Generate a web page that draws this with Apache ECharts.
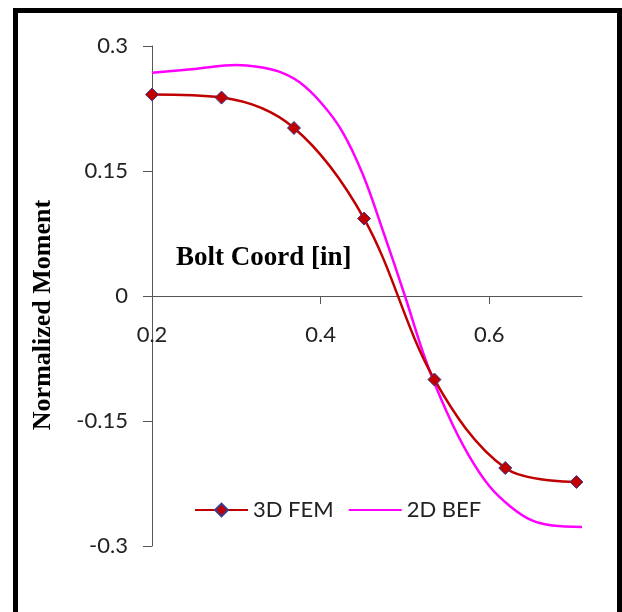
<!DOCTYPE html>
<html>
<head>
<meta charset="utf-8">
<script src="https://cdn.jsdelivr.net/npm/echarts@6/dist/echarts.min.js"></script>
<style>
html, body { margin: 0; padding: 0; background: #fff; }
#main { width: 622px; height: 612px; }
</style>
</head>
<body>
<div id="main"></div>
<script>
// 3D FEM results (bolt coord, normalized moment)
var femX = [0.2, 0.2825, 0.3684, 0.4515, 0.535, 0.619, 0.7034];
var femY = [0.2417, 0.2381, 0.2016, 0.0929, -0.1003, -0.2064, -0.2232];

// 2D BEF curve
var befX = [0.2, 0.25, 0.3, 0.325, 0.35, 0.375, 0.4, 0.425, 0.45, 0.475, 0.5,
            0.525, 0.55, 0.575, 0.6, 0.625, 0.65, 0.675, 0.71];
var befY = [0.268, 0.2725, 0.2772, 0.2752, 0.2695, 0.2565, 0.2325, 0.1985, 0.146, 0.075, 0.0,
            -0.078, -0.14, -0.19, -0.228, -0.2525, -0.269, -0.2755, -0.2772];

var xTicks = [0.2, 0.4, 0.6];
var yTicks = [-0.3, -0.15, 0, 0.15, 0.3];

function pairs(xs, ys) {
    return xs.map(function (x, i) { return [x, ys[i]]; });
}

var myChart = echarts.init(document.getElementById('main'));

option = {
    animation: false,
    backgroundColor: '#fff',
    grid: { left: 152, right: 40, top: 46, bottom: 66 },
    legend: {
        left: 194,
        top: 499,
        padding: 0,
        itemWidth: 53,
        itemHeight: 16,
        itemGap: 14,
        textStyle: { fontFamily: 'Lato', fontSize: 22, color: '#222' },
        data: ['3D FEM', { name: '2D BEF', itemStyle: { opacity: 0 } }]
    },
    xAxis: {
        type: 'value',
        min: 0.2,
        max: 0.71,
        interval: 0.2,
        offset: -250,   // sits on y = 0
        splitLine: { show: false },
        axisLine: { onZero: false, lineStyle: { color: '#555', width: 1 } },
        axisTick: { length: 8, lineStyle: { color: '#555' }, customValues: xTicks },
        axisLabel: { margin: 28, customValues: xTicks, fontFamily: 'Lato', fontSize: 22, color: '#222' }
    },
    yAxis: {
        type: 'value',
        min: -0.3,
        max: 0.3,
        interval: 0.15,
        splitLine: { show: false },
        axisLine: { show: true, onZero: false, lineStyle: { color: '#555', width: 1 } },
        axisTick: { show: true, length: 9, lineStyle: { color: '#555' }, customValues: yTicks },
        axisLabel: { margin: 24, customValues: yTicks, fontFamily: 'Lato', fontSize: 22, color: '#222' }
    },
    graphic: [
        {
            type: 'rect',
            shape: { x: 15.5, y: 10.5, width: 604, height: 700 },
            style: { fill: 'none', stroke: '#000', lineWidth: 5 },
            silent: true
        },
        {
            type: 'text',
            x: 176, y: 258,
            style: {
                text: 'Bolt Coord [in]',
                font: 'bold 27px "Liberation Serif"',
                fill: '#000',
                textAlign: 'left',
                textVerticalAlign: 'middle'
            }
        },
        {
            type: 'text',
            x: 43, y: 315,
            rotation: Math.PI / 2,
            style: {
                text: 'Normalized Moment',
                font: 'bold 26px "Liberation Serif"',
                fill: '#000',
                textAlign: 'center',
                textVerticalAlign: 'middle'
            }
        }
    ],
    series: [
        {
            name: '3D FEM',
            type: 'line',
            smooth: 0.35,
            symbol: 'diamond',
            symbolSize: 13,
            itemStyle: { color: '#c00000', borderColor: '#3a3a8c', borderWidth: 1 },
            lineStyle: { color: '#c00000', width: 2.5 },
            data: pairs(femX, femY),
            z: 3
        },
        {
            name: '2D BEF',
            type: 'line',
            smooth: 0.35,
            symbol: 'none',
            itemStyle: { color: '#ff00ff' },
            lineStyle: { color: '#ff00ff', width: 2.5 },
            data: pairs(befX, befY),
            z: 2
        }
    ]
};
myChart.setOption(option);
</script>
</body>
</html>
